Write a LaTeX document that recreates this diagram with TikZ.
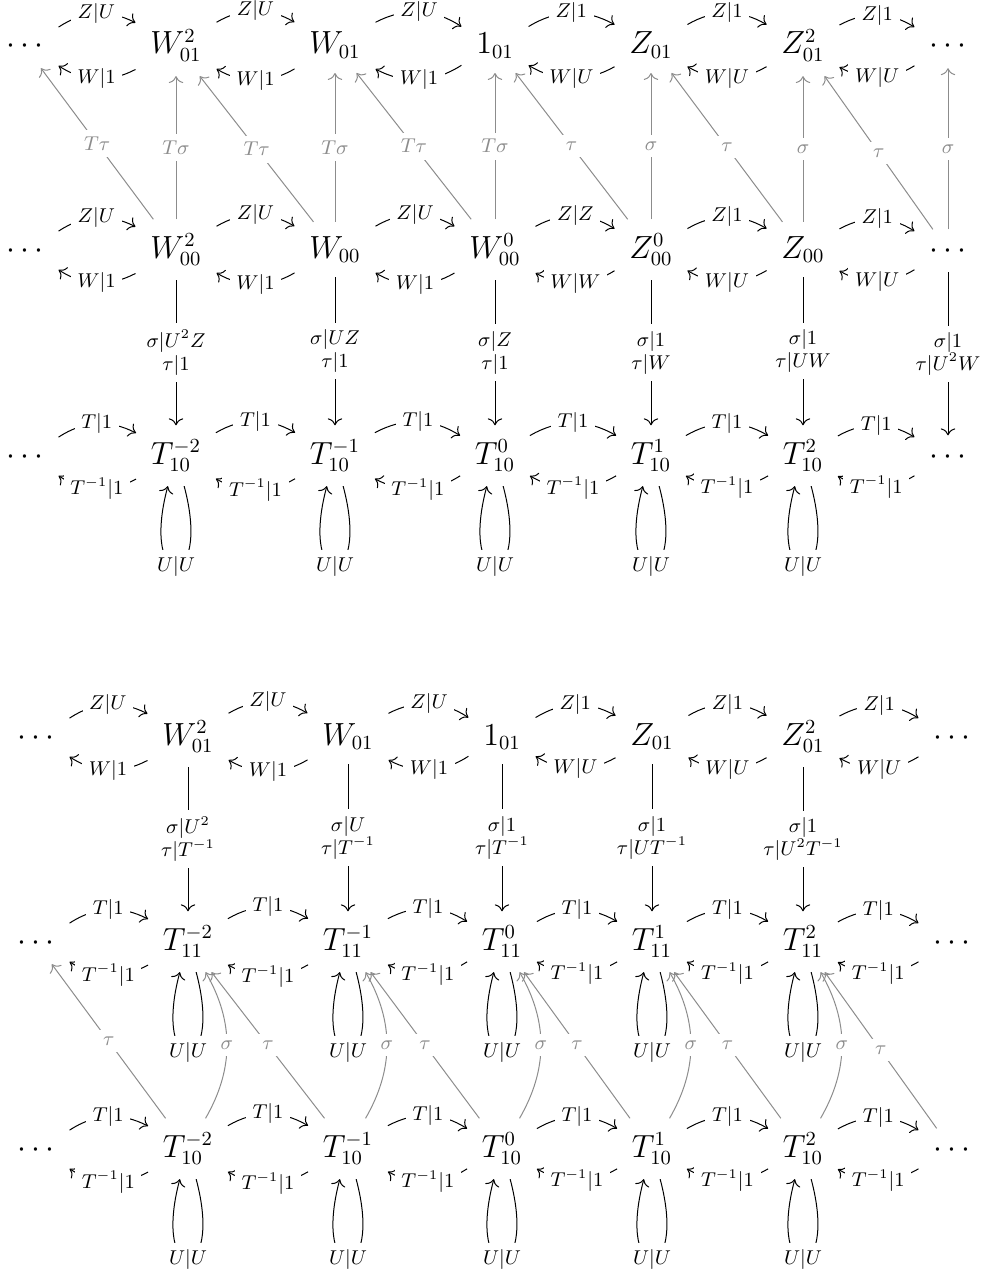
\documentclass[tikz,border=0pt]{standalone}
\usetikzlibrary{arrows.meta}
\begin{document}
\begin{tikzpicture}[x=0.45pt,y=0.45pt,
  cell/.style={anchor=base, inner xsep=6.5pt, inner ysep=6.2pt, font=\fontsize{13.5}{16}\selectfont},
  dots/.style={cell, text height=6.5pt, text depth=0pt},
  arr/.style={line width=0.45pt, -{Computer Modern Rightarrow[scale=1.2]}},
  garr/.style={arr, draw=black!45},
  desc/.style={fill=white, inner sep=3pt, font=\fontsize{9}{10}\selectfont, anchor=center},
  gdesc/.style={desc, text=black!45},
  vdesc/.style={desc, align=center, font=\fontsize{9}{10.4}\selectfont},
  lp/.style={arr, out=-75, in=-105, distance=50pt},
  hb/.style={bend left=30},
]
\useasboundingbox (0,0) rectangle (989,-1270);

% ---------------- top diagram ----------------
\node[dots] (tA0) at (25,-54) {$\cdots$};
\node[cell] (tA1) at (176,-54) {$W_{01}^2$};
\node[cell] (tA2) at (335,-54) {$W_{01}$};
\node[cell] (tA3) at (495,-54) {$1_{01}$};
\node[cell] (tA4) at (651,-54) {$Z_{01}$};
\node[cell] (tA5) at (803,-54) {$Z_{01}^2$};
\node[dots] (tA6) at (948,-54) {$\cdots$};

\node[dots] (tB0) at (25,-258) {$\cdots$};
\node[cell] (tB1) at (176,-258) {$W_{00}^2$};
\node[cell] (tB2) at (335,-258) {$W_{00}$};
\node[cell] (tB3) at (495,-258) {$W_{00}^0$};
\node[cell] (tB4) at (651,-258) {$Z_{00}^0$};
\node[cell] (tB5) at (803,-258) {$Z_{00}$};
\node[dots] (tB6) at (948,-258) {$\cdots$};

\node[dots] (tC0) at (25,-464) {$\cdots$};
\node[cell] (tC1) at (176,-464) {$T_{10}^{-2}$};
\node[cell] (tC2) at (335,-464) {$T_{10}^{-1}$};
\node[cell] (tC3) at (495,-464) {$T_{10}^{0}$};
\node[cell] (tC4) at (651,-464) {$T_{10}^{1}$};
\node[cell] (tC5) at (803,-464) {$T_{10}^{2}$};
\node[dots] (tC6) at (948,-464) {$\cdots$};

\foreach \a/\b/\u/\l in {0/1/Z|U/W|1,1/2/Z|U/W|1,2/3/Z|U/W|1,3/4/Z|1/W|U,4/5/Z|1/W|U,5/6/Z|1/W|U}{
  \draw[arr] (tA\a) to[hb] node[desc]{$\u$} (tA\b);
  \draw[arr] (tA\b) to[hb] node[desc]{$\l$} (tA\a);
}
\foreach \a/\b/\u/\l in {0/1/Z|U/W|1,1/2/Z|U/W|1,2/3/Z|U/W|1,3/4/Z|Z/W|W,4/5/Z|1/W|U,5/6/Z|1/W|U}{
  \draw[arr] (tB\a) to[hb] node[desc]{$\u$} (tB\b);
  \draw[arr] (tB\b) to[hb] node[desc]{$\l$} (tB\a);
}
\foreach \a/\b in {0/1,1/2,2/3,3/4,4/5,5/6}{
  \draw[arr] (tC\a) to[hb] node[desc]{$T|1$} (tC\b);
  \draw[arr] (tC\b) to[hb] node[desc]{$T^{-1}|1$} (tC\a);
}
\foreach \k in {1,...,5}{
  \draw[lp] (tC\k) to node[desc]{$U|U$} (tC\k);
}
\foreach \k/\j/\s/\t in {1/0/T\sigma/T\tau,2/1/T\sigma/T\tau,3/2/T\sigma/T\tau,4/3/\sigma/\tau,5/4/\sigma/\tau,6/5/\sigma/\tau}{
  \draw[garr] (tB\k) -- node[gdesc]{$\s$} (tA\k);
  \draw[garr] (tB\k) -- node[gdesc]{$\t$} (tA\j);
}
\foreach \k/\s/\t in {1/U^2Z/1,2/UZ/1,3/Z/1,4/1/W,5/1/UW,6/1/U^2W}{
  \draw[arr] (tB\k) -- node[vdesc]{$\sigma|\s$\\$\tau|\t$} (tC\k);
}

% ---------------- bottom diagram ----------------
\node[dots] (bA0) at (36,-745) {$\cdots$};
\node[cell] (bA1) at (188,-745) {$W_{01}^2$};
\node[cell] (bA2) at (348,-745) {$W_{01}$};
\node[cell] (bA3) at (502,-745) {$1_{01}$};
\node[cell] (bA4) at (652,-745) {$Z_{01}$};
\node[cell] (bA5) at (803,-745) {$Z_{01}^2$};
\node[dots] (bA6) at (952,-745) {$\cdots$};

\node[dots] (bB0) at (36,-950) {$\cdots$};
\node[cell] (bB1) at (188,-950) {$T_{11}^{-2}$};
\node[cell] (bB2) at (348,-950) {$T_{11}^{-1}$};
\node[cell] (bB3) at (502,-950) {$T_{11}^{0}$};
\node[cell] (bB4) at (652,-950) {$T_{11}^{1}$};
\node[cell] (bB5) at (803,-950) {$T_{11}^{2}$};
\node[dots] (bB6) at (952,-950) {$\cdots$};

\node[dots] (bC0) at (36,-1157) {$\cdots$};
\node[cell] (bC1) at (188,-1157) {$T_{10}^{-2}$};
\node[cell] (bC2) at (348,-1157) {$T_{10}^{-1}$};
\node[cell] (bC3) at (502,-1157) {$T_{10}^{0}$};
\node[cell] (bC4) at (652,-1157) {$T_{10}^{1}$};
\node[cell] (bC5) at (803,-1157) {$T_{10}^{2}$};
\node[dots] (bC6) at (952,-1157) {$\cdots$};

\foreach \a/\b/\u/\l in {0/1/Z|U/W|1,1/2/Z|U/W|1,2/3/Z|U/W|1,3/4/Z|1/W|U,4/5/Z|1/W|U,5/6/Z|1/W|U}{
  \draw[arr] (bA\a) to[hb] node[desc]{$\u$} (bA\b);
  \draw[arr] (bA\b) to[hb] node[desc]{$\l$} (bA\a);
}
\foreach \r in {B,C}{
  \foreach \a/\b in {0/1,1/2,2/3,3/4,4/5,5/6}{
    \draw[arr] (b\r\a) to[hb] node[desc]{$T|1$} (b\r\b);
    \draw[arr] (b\r\b) to[hb] node[desc]{$T^{-1}|1$} (b\r\a);
  }
  \foreach \k in {1,...,5}{
    \draw[lp] (b\r\k) to node[desc]{$U|U$} (b\r\k);
  }
}
\foreach \k/\s/\t in {1/U^2/T^{-1},2/U/T^{-1},3/1/T^{-1},4/1/UT^{-1},5/1/U^2T^{-1}}{
  \draw[arr] (bA\k) -- node[vdesc]{$\sigma|\s$\\$\tau|\t$} (bB\k);
}
\foreach \k in {1,...,5}{
  \draw[garr] (bC\k) to[bend right=30] node[gdesc]{$\sigma$} (bB\k);
}
\foreach \k/\j in {1/0,2/1,3/2,4/3,5/4,6/5}{
  \draw[garr] (bC\k) -- node[gdesc]{$\tau$} (bB\j);
}
\end{tikzpicture}
\end{document}
